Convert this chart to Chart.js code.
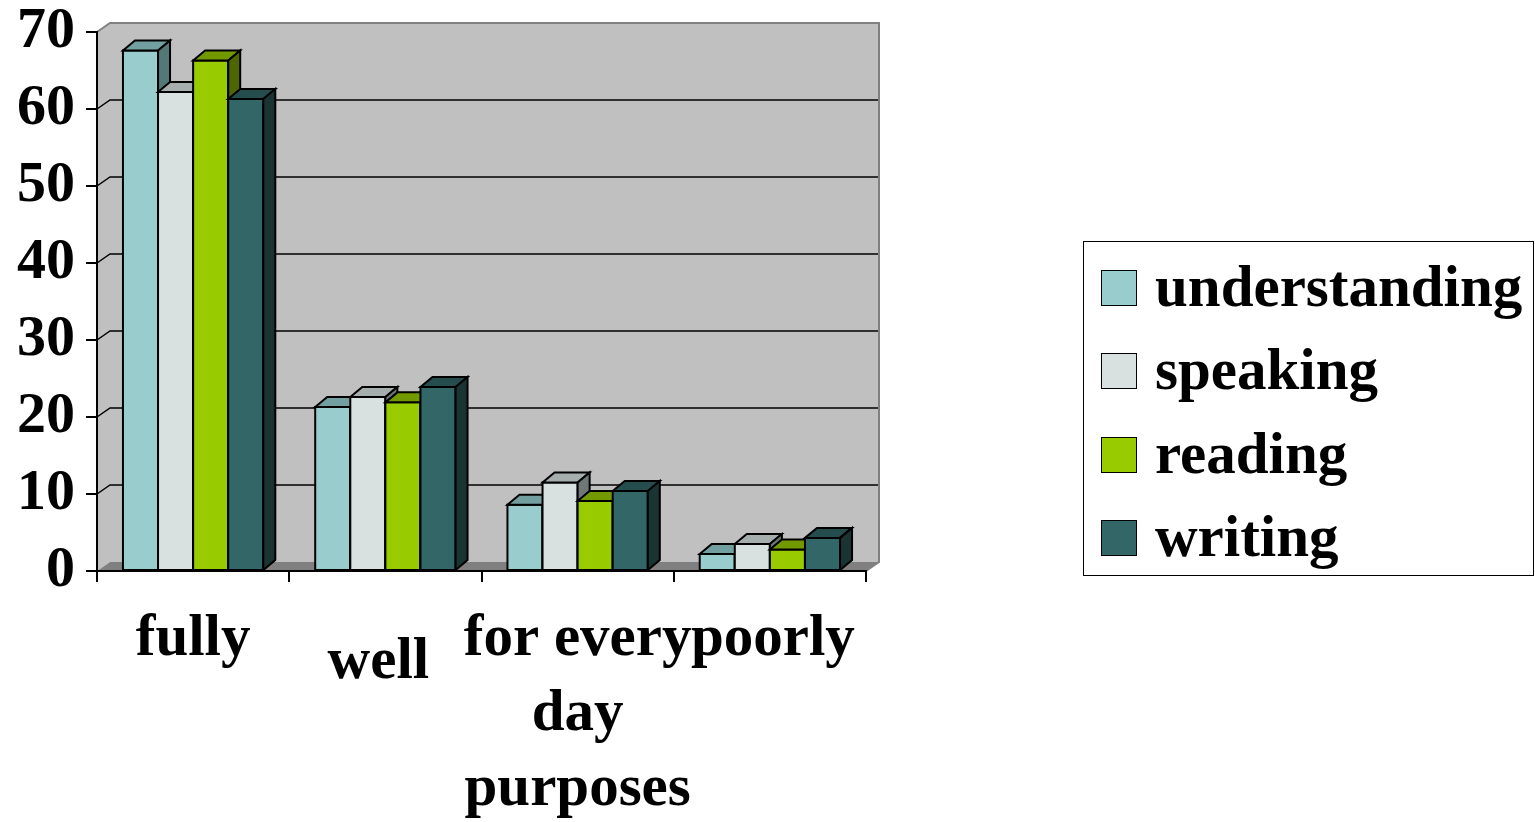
<!DOCTYPE html>
<html>
<head>
<meta charset="utf-8">
<title>Language skills</title>
<script src="https://cdn.jsdelivr.net/npm/chart.js@4.4.1/dist/chart.umd.min.js"></script>
<style>
  html, body { margin: 0; padding: 0; background: #fff; overflow: hidden; }
  #wrap { position: relative; width: 1535px; height: 822px; }
  #chart { position: absolute; left: 0; top: 0; }
  #legend {
    position: absolute; left: 1083px; top: 241px; width: 449px; height: 333px;
    border: 1.5px solid #000; box-sizing: content-box;
    font: bold 59px "Liberation Serif", "Times New Roman", serif; color: #000;
  }
  #legend .row { position: absolute; left: 0; height: 37px; width: 100%; }
  #legend .sw { position: absolute; left: 17px; top: 0; width: 34px; height: 34px; border: 1.5px solid #000; }
  #legend .tx { position: absolute; left: 71px; top: -13px; line-height: 59px; white-space: nowrap; }
</style>
</head>
<body>
<div id="wrap">
  <canvas id="chart" width="1535" height="822"></canvas>
  <div id="legend"></div>
</div>
<script>
// Categories (x axis) and how each label wraps
const categories = ['fully', 'well', 'for every day purposes', 'poorly'];
const categoryLines = [['fully'], ['well'], ['for every', 'day', 'purposes'], ['poorly']];

// Series values (%)
const understanding = [67.6, 21.3, 8.6, 2.2];
const speaking      = [62.2, 22.6, 11.5, 3.5];
const reading       = [66.3, 21.9, 9.1, 2.8];
const writing       = [61.3, 23.9, 10.4, 4.3];

// Value axis ticks
const yTicks = [0, 10, 20, 30, 40, 50, 60, 70];

const seriesNames = ['understanding', 'speaking', 'reading', 'writing'];
const seriesValues = [understanding, speaking, reading, writing];

// Face colours: front, top, side
const frontColors = ['#99cccc', '#d8e0e0', '#99cc00', '#336666'];
const topColors   = ['#72a0a0', '#a6adad', '#739900', '#264d4d'];
const sideColors  = ['#527878', '#6f7777', '#4d6600', '#1a3333'];

const FONT_FAMILY = '"Liberation Serif", "Times New Roman", serif';
const WALL = { dx: 13, dy: -9 };
const BAR = { dx: 12, dy: -10 };

// Label nudges for the wrapped category captions
const labelNudge = [{ x: 0, y: 0 }, { x: -7, y: 23 }, { x: 0, y: 0 }, { x: 3, y: 0 }];

function poly(ctx, pts) {
  ctx.beginPath();
  ctx.moveTo(pts[0][0], pts[0][1]);
  for (let i = 1; i < pts.length; i++) ctx.lineTo(pts[i][0], pts[i][1]);
  ctx.closePath();
}

const threeD = {
  id: 'threeD',
  beforeDraw(chart) {
    const { ctx, chartArea: a, scales: { y } } = chart;
    const { dx, dy } = WALL;
    ctx.save();
    // side wall + back wall
    ctx.fillStyle = '#c0c0c0';
    poly(ctx, [[a.left, a.top], [a.left + dx, a.top + dy], [a.left + dx, a.bottom + dy], [a.left, a.bottom]]);
    ctx.fill();
    poly(ctx, [[a.left + dx, a.top + dy], [a.right + dx, a.top + dy], [a.right + dx, a.bottom + dy], [a.left + dx, a.bottom + dy]]);
    ctx.fill();
    // floor
    ctx.fillStyle = '#808080';
    poly(ctx, [[a.left, a.bottom], [a.left + dx, a.bottom + dy], [a.right + dx, a.bottom + dy], [a.right, a.bottom]]);
    ctx.fill();
    // gridlines across side and back walls
    ctx.strokeStyle = '#000';
    ctx.lineWidth = 1.5;
    const max = yTicks[yTicks.length - 1];
    yTicks.forEach(v => {
      if (v === 0 || v === max) return;
      const py = y.getPixelForValue(v);
      ctx.beginPath();
      ctx.moveTo(a.left, py);
      ctx.lineTo(a.left + dx, py + dy);
      ctx.lineTo(a.right + dx, py + dy);
      ctx.stroke();
    });
    // wall outline
    ctx.strokeStyle = '#808080';
    ctx.lineWidth = 2;
    ctx.beginPath();
    ctx.moveTo(a.left, a.top);
    ctx.lineTo(a.left + dx, a.top + dy);
    ctx.lineTo(a.right + dx, a.top + dy);
    ctx.lineTo(a.right + dx, a.bottom + dy);
    ctx.lineTo(a.right, a.bottom);
    ctx.stroke();
    ctx.restore();
  },
  afterDatasetsDraw(chart) {
    const { ctx } = chart;
    const { dx, dy } = BAR;
    ctx.save();
    ctx.strokeStyle = '#000';
    ctx.lineWidth = 2;
    ctx.lineJoin = 'miter';
    categories.forEach((_, i) => {
      seriesValues.forEach((_, d) => {
        const bar = chart.getDatasetMeta(d).data[i];
        const { x, y, base, width } = bar.getProps(['x', 'y', 'base', 'width'], true);
        const l = x - width / 2, r = x + width / 2;
        ctx.fillStyle = frontColors[d];
        poly(ctx, [[l, y], [r, y], [r, base], [l, base]]);
        ctx.fill(); ctx.stroke();
        ctx.fillStyle = topColors[d];
        poly(ctx, [[l, y], [l + dx, y + dy], [r + dx, y + dy], [r, y]]);
        ctx.fill(); ctx.stroke();
        ctx.fillStyle = sideColors[d];
        poly(ctx, [[r, y], [r + dx, y + dy], [r + dx, base + dy], [r, base]]);
        ctx.fill(); ctx.stroke();
      });
    });
    ctx.restore();
  },
  afterDraw(chart) {
    const { ctx, chartArea: a, scales: { x } } = chart;
    ctx.save();
    ctx.fillStyle = '#000';
    ctx.font = 'bold 59px ' + FONT_FAMILY;
    ctx.textAlign = 'center';
    ctx.textBaseline = 'alphabetic';
    categoryLines.forEach((lines, i) => {
      const px = x.getPixelForValue(i) + labelNudge[i].x;
      const first = a.bottom + 84 + labelNudge[i].y;
      lines.forEach((t, k) => ctx.fillText(t, px, first + k * 75));
    });
    ctx.restore();
  }
};

new Chart(document.getElementById('chart'), {
  type: 'bar',
  data: {
    labels: categories,
    datasets: seriesNames.map((name, d) => ({
      label: name,
      data: seriesValues[d],
      backgroundColor: frontColors[d],
      borderColor: '#000',
      borderWidth: 2,
      categoryPercentage: 0.73,
      barPercentage: 1.0
    }))
  },
  options: {
    responsive: false,
    animation: false,
    events: [],
    layout: { padding: { top: 32, right: 669, bottom: 0, left: 0 } },
    plugins: { legend: { display: false }, tooltip: { enabled: false } },
    scales: {
      x: {
        ticks: { display: false },
        grid: { display: true, drawOnChartArea: false, drawTicks: true, tickLength: 11, color: '#000', lineWidth: 2, offset: true },
        border: { display: true, color: '#000', width: 2 },
        afterFit(s) { s.height = 251; }
      },
      y: {
        min: 0,
        max: yTicks[yTicks.length - 1],
        ticks: {
          stepSize: 10,
          autoSkip: false,
          padding: 11,
          color: '#000',
          font: { family: FONT_FAMILY, size: 58, weight: 'bold', lineHeight: 0.8 }
        },
        grid: { display: true, drawOnChartArea: false, drawTicks: true, tickLength: 11, color: '#000', lineWidth: 2 },
        border: { display: true, color: '#000', width: 2 },
        afterFit(s) { s.width = 97; s.paddingTop = 0; s.paddingBottom = 0; }
      }
    }
  },
  plugins: [threeD]
});

// Legend
const legend = document.getElementById('legend');
const rowTops = [27.5, 111, 194.5, 278];
seriesNames.forEach((name, d) => {
  const row = document.createElement('div');
  row.className = 'row';
  row.style.top = rowTops[d] + 'px';
  const sw = document.createElement('div');
  sw.className = 'sw';
  sw.style.background = frontColors[d];
  const tx = document.createElement('div');
  tx.className = 'tx';
  tx.textContent = name;
  row.appendChild(sw);
  row.appendChild(tx);
  legend.appendChild(row);
});
</script>
</body>
</html>
